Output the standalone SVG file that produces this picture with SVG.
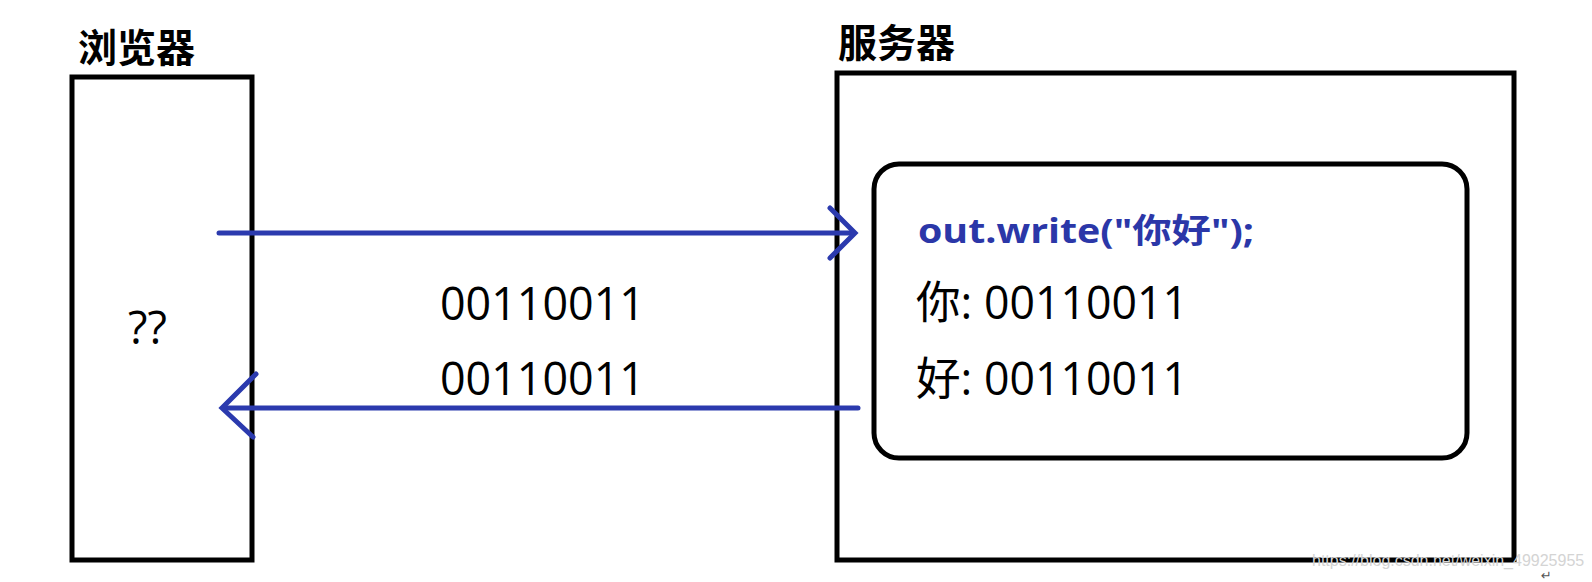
<svg xmlns="http://www.w3.org/2000/svg" width="1592" height="582" viewBox="0 0 1592 582">
  <defs>
    <style>
      .box { fill: none; stroke: #000; stroke-width: 5; }
      .title { font-family: "Noto Sans CJK SC", sans-serif; font-weight: bold; font-size: 39px; fill: #000; }
      .txt { font-family: "Open Sans", "Noto Sans CJK SC", sans-serif; font-size: 45px; fill: #000; }
      .code { font-family: "Open Sans", "Noto Sans CJK SC", sans-serif; font-weight: bold; font-size: 34px; fill: #2b37a8; }
      .conn { fill: none; stroke: #2b3aae; stroke-width: 5; stroke-linecap: round; stroke-linejoin: miter; }
      .wm { font-family: "Liberation Sans", sans-serif; font-size: 16px; fill: #d4d4d4; }
    </style>
  </defs>
  <rect width="1592" height="582" fill="#fff"/>

  <g id="browser">
    <rect class="box" x="72" y="77" width="180" height="483"/>
    <text class="title" x="78" y="62">浏览器</text>
    <text class="txt" x="128" y="344">??</text>
  </g>

  <g id="server">
    <rect class="box" x="837" y="73" width="677" height="487"/>
    <text class="title" x="838" y="57">服务器</text>
    <g id="code-box">
      <rect class="box" x="874" y="164" width="593" height="294" rx="25" ry="25"/>
      <text class="code" x="918" y="243" textLength="336" lengthAdjust="spacingAndGlyphs">out.write("你好");</text>
      <text class="txt" x="916" y="319" textLength="272" lengthAdjust="spacingAndGlyphs">你: 00110011</text>
      <text class="txt" x="916" y="395" textLength="272" lengthAdjust="spacingAndGlyphs">好: 00110011</text>
    </g>
  </g>

  <g id="connectors">
    <path class="conn" d="M219,233 H853"/>
    <path class="conn" d="M830,208 L855,233 L830,258"/>
    <path class="conn" d="M858,408 H224"/>
    <path class="conn" d="M256,374 L222,408 L253,437"/>
  </g>

  <g id="labels">
    <text class="txt" x="440" y="320" textLength="205" lengthAdjust="spacingAndGlyphs">00110011</text>
    <text class="txt" x="440" y="395" textLength="205" lengthAdjust="spacingAndGlyphs">00110011</text>
  </g>

  <text class="wm" x="1312" y="566">https://blog.csdn.net/weixin_49925955</text>
  <text x="1541" y="580" font-family="DejaVu Sans, sans-serif" font-size="13" fill="#555">↵</text>
</svg>
